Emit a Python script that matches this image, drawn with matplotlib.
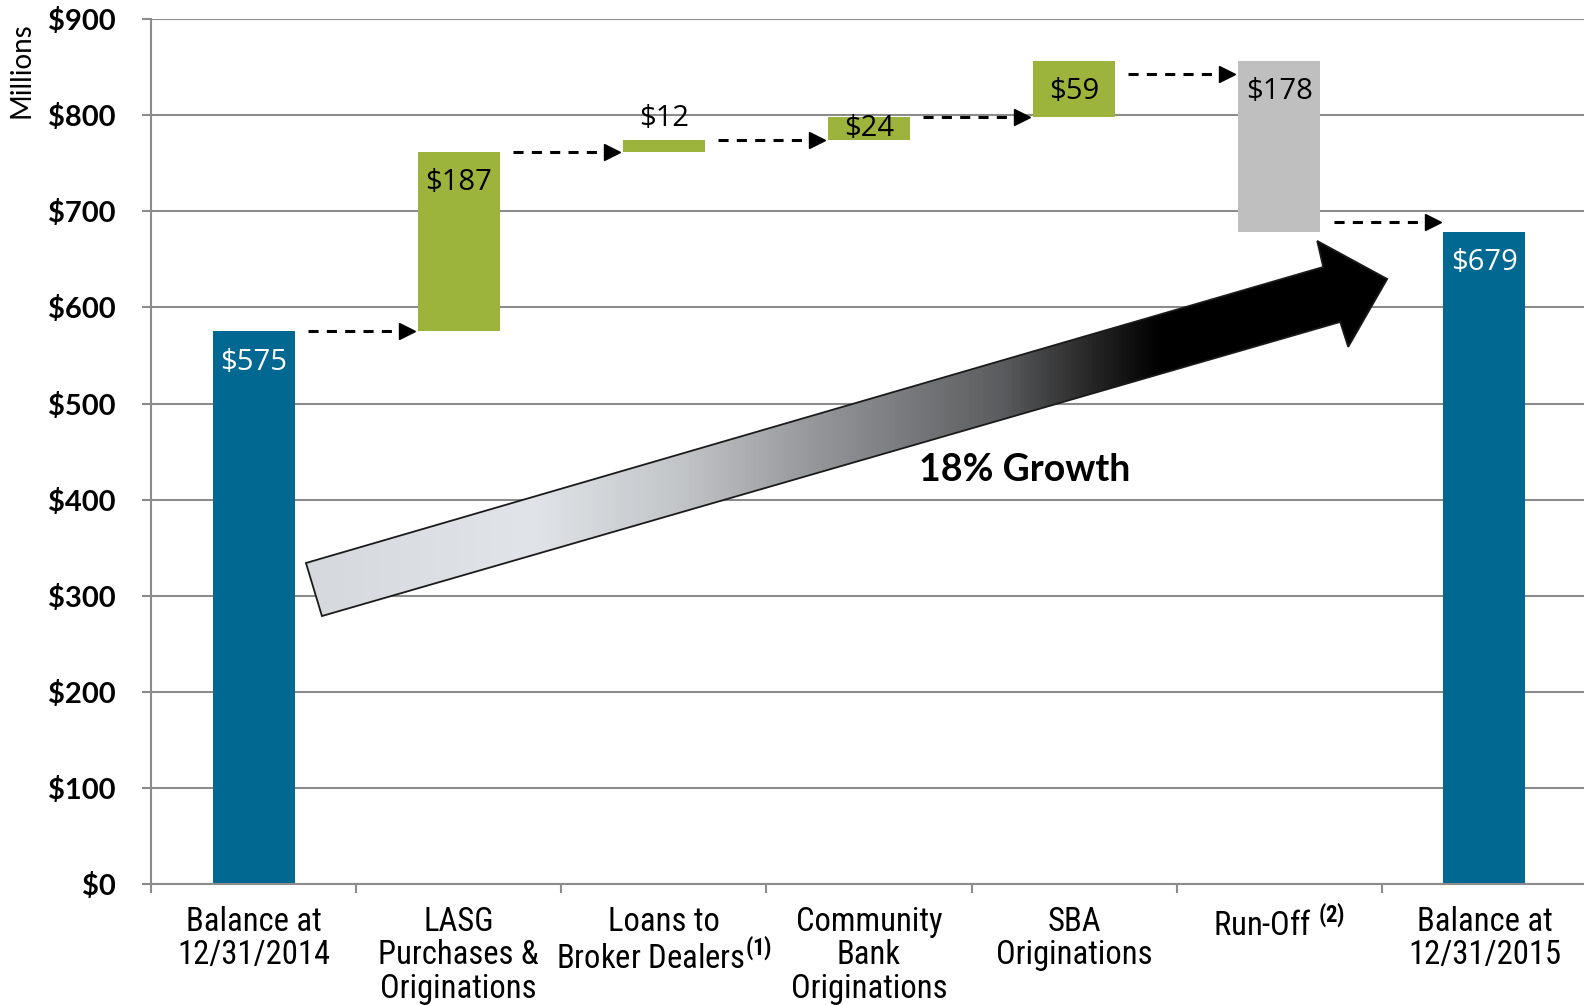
import numpy as np
import matplotlib.pyplot as plt
from matplotlib.colors import LinearSegmentedColormap
from matplotlib.patches import Polygon
from matplotlib.ticker import FuncFormatter, MultipleLocator

# loan balance walk, $ millions
categories = ["Balance at\n12/31/2014", "LASG\nPurchases &\nOriginations",
              "Loans to\nBroker Dealers$^{(1)}$", "Community\nBank\nOriginations",
              "SBA\nOriginations", "Run-Off $^{(2)}$", "Balance at\n12/31/2015"]
start_balance = 575
changes = [187, 12, 24, 59, -178]
end_balance = 679
value_labels = ["$575", "$187", "$12", "$24", "$59", "$178", "$679"]
label_pos = ["inside", "inside", "above", "center", "inside", "inside", "inside"]
connector_levels = [575, 762, 774, 798, 843, 689]

BLUE = "#016892"
GREEN = "#9cb33c"
GREY = "#bfbfbf"
AXIS_GREY = "#8c8c8c"
NARROW = ["Roboto Condensed", "DejaVu Sans"]

plt.rcParams["mathtext.fontset"] = "custom"
plt.rcParams["mathtext.rm"] = "Roboto Condensed:bold"

fig = plt.figure(figsize=(15.84, 10.05), dpi=100)
ax = fig.add_axes([0.0953, 0.1205, 0.9066, 0.8604])

# waterfall bars
levels = start_balance + np.cumsum(changes)
prev = np.concatenate([[start_balance], levels[:-1]])
bottoms = [0] + list(np.minimum(prev, levels)) + [0]
heights = [start_balance] + [abs(c) for c in changes] + [end_balance]
colors = [BLUE] + [GREEN if c > 0 else GREY for c in changes] + [BLUE]
x = np.arange(len(categories))
ax.bar(x, heights, bottom=bottoms, width=0.4, color=colors, zorder=2)

for i, (txt, pos) in enumerate(zip(value_labels, label_pos)):
    top = bottoms[i] + heights[i]
    col = "white" if colors[i] == BLUE else "black"
    if pos == "inside":
        ax.annotate(txt, (i, top), xytext=(0, -22), textcoords="offset points",
                    ha="center", va="center", fontsize=21, color=col,
                    family="Open Sans", zorder=5)
    elif pos == "above":
        ax.annotate(txt, (i, top), xytext=(0, 16), textcoords="offset points",
                    ha="center", va="center", fontsize=21, color=col,
                    family="Open Sans", zorder=5)
    else:
        ax.text(i, bottoms[i] + heights[i] / 2, txt, ha="center", va="center",
                fontsize=21, color=col, family="Open Sans", zorder=5)

# dashed connectors between bars
for i, lvl in enumerate(connector_levels):
    ax.plot([i + 0.265, i + 0.75], [lvl, lvl], color="black", lw=2.2,
            ls=(0, (3.3, 2.7)), zorder=4, solid_capstyle="butt")
    ax.plot(i + 0.747, lvl, marker=">", ms=12, color="black", zorder=4)

# growth arrow with grey-to-black fill
arrow_pts = np.array([
    [0.2555, 334.0], [0.3335, 278.8], [5.297, 584.9], [5.336, 558.9],
    [5.526, 629.6], [5.185, 669.2], [5.214, 642.1],
])
cmap = LinearSegmentedColormap.from_list("growth", [
    (0.0, "#d5d8dc"), (0.207, "#e1e4e8"), (0.346, "#c2c5c8"), (0.457, "#9a9b9e"),
    (0.642, "#5c5d5f"), (0.734, "#222222"), (0.79, "#000000"), (1.0, "#000000")])
outline = Polygon(arrow_pts, closed=True, facecolor="none", edgecolor="#1a1a1a",
                  lw=1.3, zorder=4)
ax.add_patch(outline)
grad = np.linspace(0, 1, 512).reshape(1, -1)
im = ax.imshow(grad, cmap=cmap, aspect="auto", origin="lower", zorder=3,
               extent=[arrow_pts[:, 0].min(), arrow_pts[:, 0].max(),
                       arrow_pts[:, 1].min(), arrow_pts[:, 1].max()])
im.set_clip_path(outline)
ax.text(3.761, 430.8, "18% Growth", ha="center", va="center", fontsize=27,
        fontweight="bold", family="Lato", zorder=5)

ax.set_xlim(-0.5, 6.5)
ax.set_ylim(0, 900)

ax.yaxis.set_major_locator(MultipleLocator(100))
ax.yaxis.set_major_formatter(FuncFormatter(lambda v, _: f"${v:.0f}"))
ax.grid(axis="y", color=AXIS_GREY, lw=1.5, zorder=0)
ax.set_axisbelow(True)
for s in ["top", "right"]:
    ax.spines[s].set_visible(False)
for s in ["left", "bottom"]:
    ax.spines[s].set_color(AXIS_GREY)
    ax.spines[s].set_linewidth(1.5)

ax.tick_params(axis="y", length=6.5, width=1.5, color=AXIS_GREY, pad=19)
for lbl in ax.get_yticklabels():
    lbl.set_fontfamily("Lato")
    lbl.set_fontweight("bold")
    lbl.set_fontsize(21)

ax.set_xticks(x)
ax.set_xticklabels(categories, fontsize=23.5, family=NARROW, fontstretch="condensed",
                   fontweight="normal", linespacing=1.05)
ax.set_xticks(np.arange(-0.5, 7, 1), minor=True)
ax.tick_params(axis="x", which="major", length=0, pad=16)
ax.tick_params(axis="x", which="minor", length=6.5, width=1.5, color=AXIS_GREY)

fig.text(22 / 1584, 1 - 70 / 1005, "Millions", rotation=90, ha="center",
         va="center", fontsize=20, family="Lato")

fig.savefig("out.png", dpi=100)
